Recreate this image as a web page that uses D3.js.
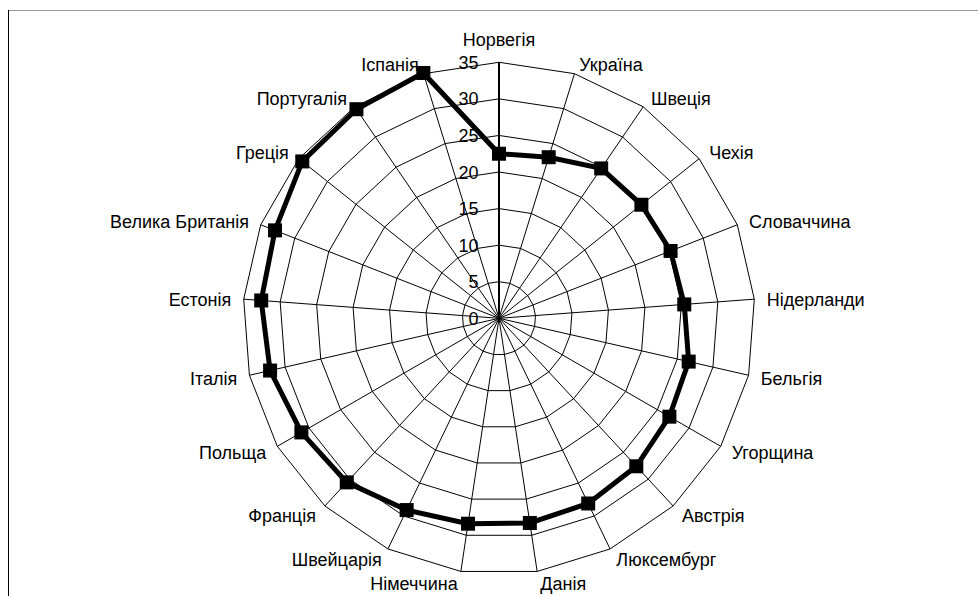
<!DOCTYPE html>
<html>
<head>
<meta charset="utf-8">
<script src="https://cdn.jsdelivr.net/npm/d3@7"></script>
<style>
  html, body { margin: 0; padding: 0; background: #fff; }
  svg { display: block; }
  text { font-family: "Liberation Sans", Arial, sans-serif; font-size: 18px; fill: #000; }
</style>
</head>
<body>
<svg id="chart" width="978" height="596"></svg>
<script>
const categories = ["Норвегія", "Україна", "Швеція", "Чехія", "Словаччина", "Нідерланди", "Бельгія",
  "Угорщина", "Австрія", "Люксембург", "Данія", "Німеччина", "Швейцарія", "Франція", "Польща",
  "Італія", "Естонія", "Велика Британія", "Греція", "Португалія", "Іспанія"];
const values = [22.5, 23.05, 24.8, 24.9, 25.2, 25.4, 26.6, 26.9, 27.6, 28.1, 28.3, 28.4, 29.1,
  30.6, 31.2, 32.1, 32.6, 32.9, 34.4, 34.6, 35.1];
const tickValues = [0, 5, 10, 15, 20, 25, 30, 35];

const svg = d3.select("#chart");
const cx = 499, cy = 318.3;
const rScale = d3.scaleLinear().domain([0, 35]).range([0, 256]);
const aScale = d3.scaleLinear().domain([0, categories.length]).range([0, 2 * Math.PI]);

// frame
svg.append("line").attr("x1", 8).attr("x2", 978).attr("y1", 10.5).attr("y2", 10.5)
  .attr("stroke", "#999").attr("stroke-width", 1);
svg.append("line").attr("x1", 8.5).attr("x2", 8.5).attr("y1", 10).attr("y2", 596)
  .attr("stroke", "#000").attr("stroke-width", 1);

const g = svg.append("g").attr("transform", `translate(${cx},${cy})`);

// rings
const ringLine = d3.lineRadial()
  .angle((d, i) => aScale(i))
  .radius(d => rScale(d))
  .curve(d3.curveLinearClosed);
tickValues.filter(t => t > 0).forEach(t => {
  g.append("path")
    .attr("d", ringLine(categories.map(() => t)))
    .attr("fill", "none").attr("stroke", "#000").attr("stroke-width", 1);
});

// spokes
categories.forEach((c, i) => {
  const a = aScale(i);
  g.append("line")
    .attr("x1", 0).attr("y1", 0)
    .attr("x2", rScale(35) * Math.sin(a)).attr("y2", -rScale(35) * Math.cos(a))
    .attr("stroke", "#000").attr("stroke-width", i === 0 ? 2 : 1);
});

// tick labels
tickValues.forEach(t => {
  g.append("text")
    .attr("x", -20.5).attr("y", -rScale(t))
    .attr("dy", "0.36em")
    .attr("text-anchor", "end")
    .text(t);
});

// category labels
categories.forEach((c, i) => {
  const a = aScale(i);
  const s = Math.sin(a), co = Math.cos(a);
  const vx = rScale(35) * s, vy = -rScale(35) * co;
  let x, yc, anchor;
  if (i === 0) {
    x = vx; yc = vy - 23; anchor = "middle";
  } else {
    const sign = s > 0 ? 1 : -1;
    x = vx + sign * (1.5 + 11 * Math.abs(s));
    yc = vy + 1 - 11 * co;
    anchor = s > 0 ? "start" : "end";
  }
  g.append("text")
    .attr("x", x).attr("y", yc)
    .attr("dy", "0.36em")
    .attr("text-anchor", anchor)
    .text(c);
});

// data line
const dataLine = d3.lineRadial()
  .angle((d, i) => aScale(i))
  .radius(d => rScale(d))
  .curve(d3.curveLinearClosed);
g.append("path")
  .attr("d", dataLine(values))
  .attr("fill", "none").attr("stroke", "#000").attr("stroke-width", 5)
  .attr("stroke-linejoin", "miter");

// markers
const ms = 14;
g.selectAll("rect.marker").data(values).enter().append("rect")
  .attr("class", "marker")
  .attr("x", (d, i) => rScale(d) * Math.sin(aScale(i)) - ms / 2)
  .attr("y", (d, i) => -rScale(d) * Math.cos(aScale(i)) - ms / 2)
  .attr("width", ms).attr("height", ms)
  .attr("fill", "#000");
</script>
</body>
</html>
